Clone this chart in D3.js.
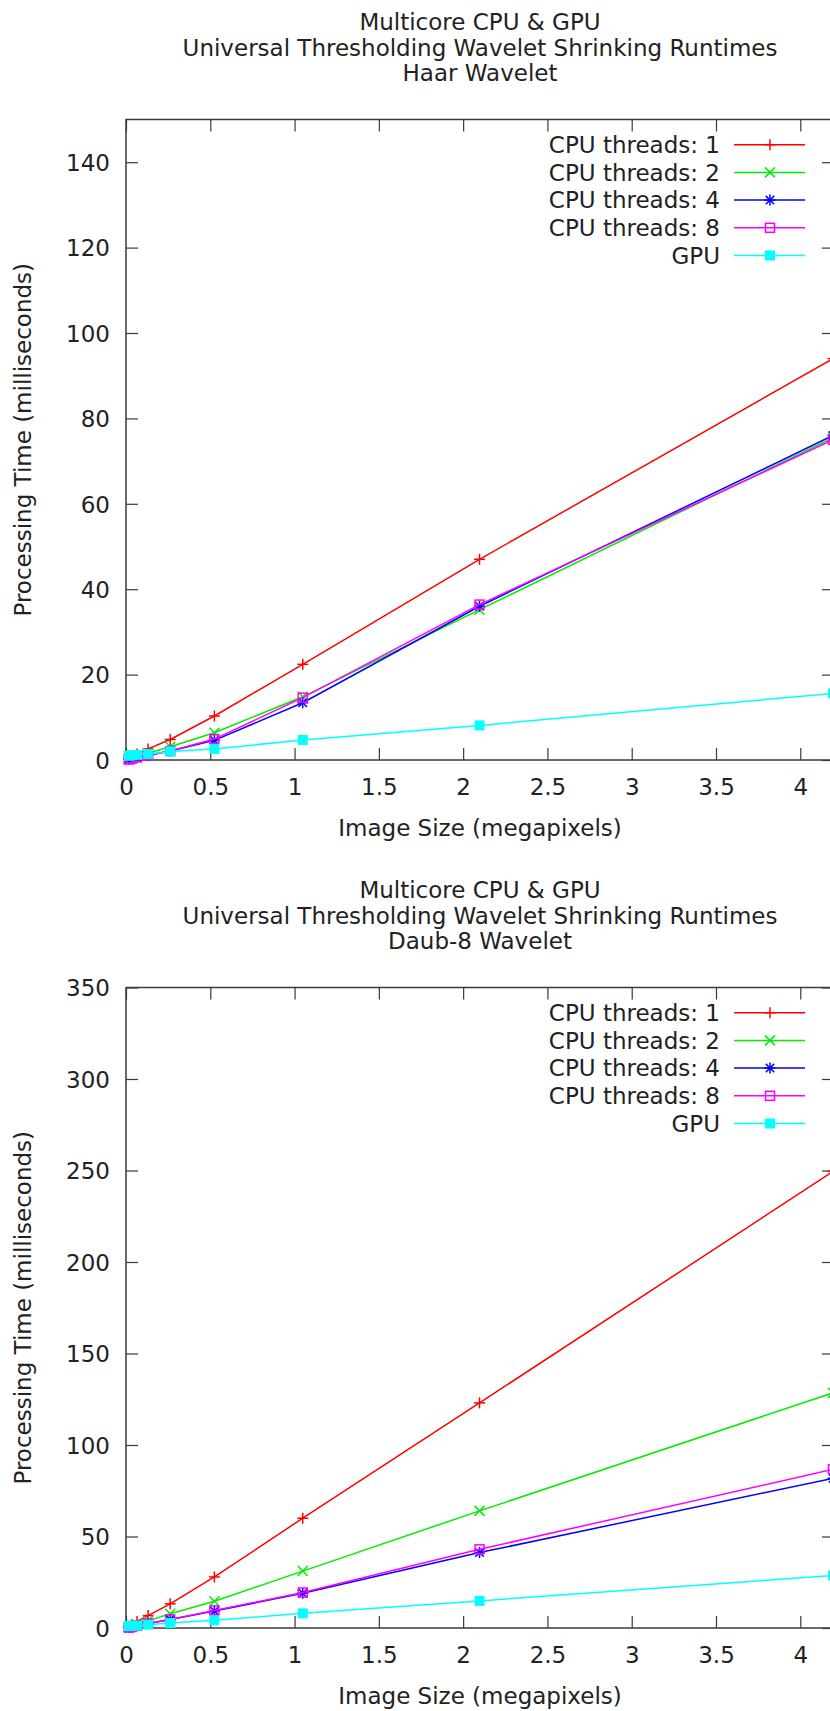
<!DOCTYPE html>
<html>
<head>
<meta charset="utf-8">
<script src="https://cdn.jsdelivr.net/npm/d3@7"></script>
<style>
  html, body { margin: 0; padding: 0; background: #fff; }
  svg { display: block; }
  text { font-family: "DejaVu Sans", sans-serif; fill: #222; }
</style>
</head>
<body>
<svg id="chart" width="830" height="1711"></svg>
<script>
// Image sizes (megapixels): 2^14 .. 2^22 pixels
const imageSizes = [0.016384, 0.032768, 0.065536, 0.131072, 0.262144, 0.524288, 1.048576, 2.097152, 4.194304];

// Haar wavelet runtimes (ms)
const haarCpu1 = [0.35, 0.7, 1.4, 2.6, 4.8, 10.3, 22.4, 47.0, 94.0];
const haarCpu2 = [0.3, 0.5, 0.9, 1.6, 3.1, 6.4, 14.8, 35.2, 75.5];
const haarCpu4 = [0.2, 0.4, 0.6, 1.1, 2.1, 4.6, 13.4, 36.0, 76.0];
const haarCpu8 = [0.1, 0.3, 0.6, 1.1, 2.1, 4.9, 14.6, 36.4, 75.0];
const haarGpu  = [1.0, 1.1, 1.2, 1.4, 2.0, 2.6, 4.7, 8.1, 15.6];

// Daub-8 wavelet runtimes (ms)
const daubCpu1 = [0.9, 1.7, 3.6, 6.8, 13.2, 27.9, 60.0, 123.0, 249.5];
const daubCpu2 = [0.6, 1.0, 2.0, 3.9, 7.8, 14.6, 31.1, 64.0, 128.5];
const daubCpu4 = [0.4, 0.6, 1.2, 2.4, 4.6, 9.3, 19.0, 41.2, 81.8];
const daubCpu8 = [0.2, 0.5, 1.2, 2.4, 4.7, 9.6, 19.4, 43.0, 86.7];
const daubGpu  = [1.1, 1.2, 1.3, 1.8, 2.7, 4.2, 8.0, 14.8, 28.7];

const seriesNames = ["CPU threads: 1", "CPU threads: 2", "CPU threads: 4", "CPU threads: 8", "GPU"];
const seriesColors = ["#ff0000", "#00ee00", "#0000ff", "#ff00ff", "#00ffff"];
const seriesMarkers = ["plus", "cross", "star", "square", "filledSquare"];

const titleLines = ["Multicore CPU & GPU", "Universal Thresholding Wavelet Shrinking Runtimes"];
const haarSubtitle = "Haar Wavelet";
const daubSubtitle = "Daub-8 Wavelet";

const xTicks = [0, 0.5, 1, 1.5, 2, 2.5, 3, 3.5, 4];
const haarYTicks = [0, 20, 40, 60, 80, 100, 120, 140];
const daubYTicks = [0, 50, 100, 150, 200, 250, 300, 350];

const xLabel = "Image Size (megapixels)";
const yLabel = "Processing Time (milliseconds)";

const panels = [
  { subtitle: haarSubtitle, yMax: 150, yTicks: haarYTicks, series: [haarCpu1, haarCpu2, haarCpu4, haarCpu8, haarGpu] },
  { subtitle: daubSubtitle, yMax: 350, yTicks: daubYTicks, series: [daubCpu1, daubCpu2, daubCpu4, daubCpu8, daubGpu] }
];

const svg = d3.select("#chart");
const FONT = 23;
const plotLeft = 126, plotRight = 834, plotH = 640.5, panelStep = 868, firstTop = 119.5;
const tickLen = 12;
const borderColor = "#3a3a3a";

function drawMarker(g, type, cx, cy, color) {
  const s = 5.5;
  if (type === "plus" || type === "star") {
    g.append("line").attr("x1", cx - s).attr("x2", cx + s).attr("y1", cy).attr("y2", cy)
      .attr("stroke", color).attr("stroke-width", 1.5);
    g.append("line").attr("x1", cx).attr("x2", cx).attr("y1", cy - s).attr("y2", cy + s)
      .attr("stroke", color).attr("stroke-width", 1.5);
  }
  if (type === "cross" || type === "star") {
    const d = type === "star" ? 4.2 : 5;
    g.append("line").attr("x1", cx - d).attr("x2", cx + d).attr("y1", cy - d).attr("y2", cy + d)
      .attr("stroke", color).attr("stroke-width", 1.5);
    g.append("line").attr("x1", cx - d).attr("x2", cx + d).attr("y1", cy + d).attr("y2", cy - d)
      .attr("stroke", color).attr("stroke-width", 1.5);
  }
  if (type === "square") {
    g.append("rect").attr("x", cx - 4.5).attr("y", cy - 4.5).attr("width", 9).attr("height", 9)
      .attr("fill", "none").attr("stroke", color).attr("stroke-width", 1.5);
  }
  if (type === "filledSquare") {
    g.append("rect").attr("x", cx - 5).attr("y", cy - 5).attr("width", 10).attr("height", 10)
      .attr("fill", color);
  }
}

function styleAxis(g) {
  g.select(".domain").remove();
  g.selectAll(".tick line").attr("stroke", borderColor).attr("stroke-width", 1.2);
  g.selectAll(".tick text").attr("font-size", FONT).attr("fill", "#222")
    .attr("font-family", "DejaVu Sans, sans-serif");
}

panels.forEach((p, i) => {
  const top = firstTop + i * panelStep;
  const bottom = top + plotH;
  const g = svg.append("g");

  const x = d3.scaleLinear().domain([0, 4.2]).range([plotLeft, plotRight]);
  const y = d3.scaleLinear().domain([0, p.yMax]).range([bottom, top]);
  const cx = (plotLeft + plotRight) / 2;

  // Titles
  const titleBase = top - 89.5;
  titleLines.concat([p.subtitle]).forEach((t, k) => {
    g.append("text").attr("x", cx).attr("y", titleBase + k * 25.5)
      .attr("text-anchor", "middle").attr("font-size", FONT).text(t);
  });

  // Axes with inward ticks
  const fmt = d3.format("~g");
  g.append("g").attr("transform", `translate(0,${bottom})`)
    .call(d3.axisBottom(x).tickValues(xTicks).tickFormat(fmt).tickSize(-tickLen).tickPadding(0))
    .call(styleAxis)
    .call(a => a.selectAll(".tick text").attr("y", 35).attr("dy", null));
  g.append("g").attr("transform", `translate(0,${top})`)
    .call(d3.axisTop(x).tickValues(xTicks).tickFormat("").tickSize(-tickLen))
    .call(styleAxis);
  g.append("g").attr("transform", `translate(${plotLeft},0)`)
    .call(d3.axisLeft(y).tickValues(p.yTicks).tickFormat(fmt).tickSize(-tickLen).tickPadding(0))
    .call(styleAxis)
    .call(a => a.selectAll(".tick text").attr("x", -16).attr("dy", "0.36em"));
  g.append("g").attr("transform", `translate(${plotRight},0)`)
    .call(d3.axisRight(y).tickValues(p.yTicks).tickFormat("").tickSize(-tickLen))
    .call(styleAxis);

  // Plot border
  g.append("rect").attr("x", plotLeft).attr("y", top)
    .attr("width", plotRight - plotLeft).attr("height", plotH)
    .attr("fill", "none").attr("stroke", borderColor).attr("stroke-width", 1.5);

  // Axis titles
  g.append("text").attr("x", cx).attr("y", bottom + 76)
    .attr("text-anchor", "middle").attr("font-size", FONT).text(xLabel);
  g.append("text")
    .attr("transform", `translate(31,${(top + bottom) / 2}) rotate(-90)`)
    .attr("text-anchor", "middle").attr("font-size", FONT).text(yLabel);

  // Series
  const line = d3.line().x(d => x(d[0])).y(d => y(d[1]));
  p.series.forEach((vals, si) => {
    const pts = imageSizes.map((s, k) => [s, vals[k]]);
    const sg = g.append("g");
    sg.append("path").attr("d", line(pts)).attr("fill", "none")
      .attr("stroke", seriesColors[si]).attr("stroke-width", 1.5);
    pts.forEach(d => drawMarker(sg, seriesMarkers[si], x(d[0]), y(d[1]), seriesColors[si]));
  });

  // Legend
  const legTop = top + 25.2, rowH = 27.7;
  seriesNames.forEach((name, si) => {
    const ly = legTop + si * rowH;
    g.append("text").attr("x", 720).attr("y", ly).attr("dy", "0.36em")
      .attr("text-anchor", "end").attr("font-size", FONT).text(name);
    g.append("line").attr("x1", 734).attr("x2", 805).attr("y1", ly).attr("y2", ly)
      .attr("stroke", seriesColors[si]).attr("stroke-width", 1.5);
    drawMarker(g, seriesMarkers[si], 770, ly, seriesColors[si]);
  });
});
</script>
</body>
</html>
